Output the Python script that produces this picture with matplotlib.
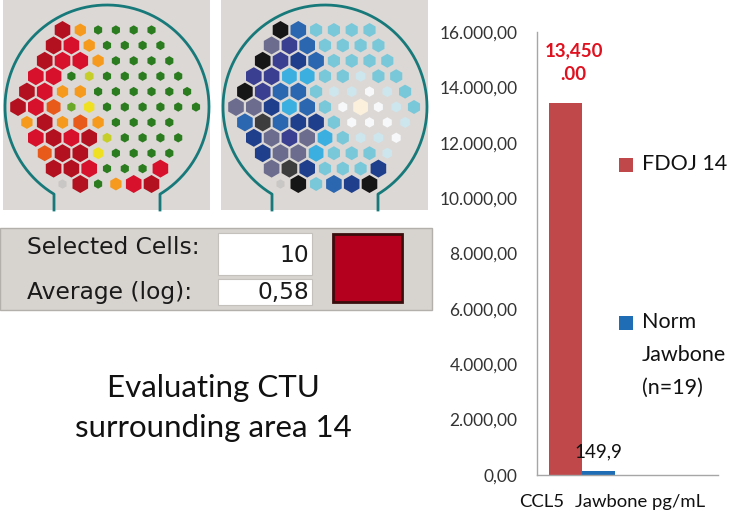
import numpy as np
import matplotlib.pyplot as plt
from matplotlib.patches import Rectangle, RegularPolygon

plt.rcParams['font.family'] = ['Lato', 'DejaVu Sans']

# bar chart data
series = ['FDOJ 14', 'Norm\nJawbone\n(n=19)']
values = [13450.0, 149.9]
value_labels = ['13,450\n.00', '149,9']
bar_colors = ['#c0484a', '#1f6db4']
yticks = [0, 2000, 4000, 6000, 8000, 10000, 12000, 14000, 16000]
category = 'CCL5'
unit_label = 'Jawbone pg/mL'

# selection panel
panel_labels = ['Selected Cells:', 'Average (log):']
panel_values = ['10', '0,58']
selected_color = '#b4001e'

caption = 'Evaluating CTU\nsurrounding area 14'

# hex maps: one code per cell, rows top to bottom
row_start = [5, 4, 3, 2, 1, 0, 1, 2, 3, 4, 5]
map1_rows = [
    'DOGGGG',
    'DROGGGG',
    'DRROGGGG',
    'RRGyGGGGG',
    'DROOGGGGGG',
    'DRogYGGGGGG',
    'ODOoOGGGG',
    'RDRDyGGGG',
    'oDDYGGGG',
    'DDRGGGR',
    'SDGORD',
]
map2_rows = [
    'KBcccc',
    'VPBcccc',
    'KPNBcccc',
    'PPCCccwcc',
    'KPBBcwwWwc',
    'VVNCBcWEWwc',
    'BHBNNcWWWw',
    'NVPVCcwwW',
    'NVVCcccw',
    'VHNcccN',
    'SKcBNK',
]
map1_colors = {'D': '#b3111f', 'R': '#d7112b', 'O': '#f59a1c', 'o': '#e75a19',
               'Y': '#efe021', 'y': '#c6cf2a', 'G': '#2a7c1f', 'g': '#6ba82a',
               'S': '#c9c7c5'}
map1_sizes = {'D': 9, 'R': 9, 'O': 6.5, 'o': 8, 'Y': 6, 'y': 5,
              'G': 4.7, 'g': 4.7, 'S': 4.7}
map2_colors = {'K': '#161616', 'N': '#1f3f8d', 'P': '#3b3f92', 'V': '#6c6c8e',
               'H': '#3d3d3d', 'B': '#2b66b1', 'C': '#3bb0e0', 'c': '#79c8da',
               'w': '#cde6ee', 'W': '#f6f8fa', 'E': '#fbf0dc', 'S': '#c9c7c5'}
map2_sizes = {'K': 9, 'N': 9, 'P': 9, 'V': 9, 'H': 9, 'B': 9, 'C': 8.5,
              'c': 7, 'w': 5.5, 'W': 5.2, 'E': 8.5, 'S': 4.7}

W, H = 733, 515
fig = plt.figure(figsize=(W / 100, H / 100), dpi=100)
ov = fig.add_axes([0, 0, 1, 1], zorder=0)
ov.set_xlim(0, W)
ov.set_ylim(H, 0)
ov.axis('off')


def draw_map(x_off, rows, colors, sizes):
    ov.add_patch(Rectangle((x_off + 3, 0), 207, 210, facecolor='#dcd8d5', edgecolor='none'))
    cx, cy, r, half = x_off + 107, 107, 102, 53
    a = np.arcsin(half / r)
    t = np.linspace(-(np.pi - a), np.pi - a, 400)
    xs = np.concatenate([[cx - half], cx + r * np.sin(t), [cx + half]])
    ys = np.concatenate([[210], cy - r * np.cos(t), [210]])
    ov.plot(xs, ys, color='#17797a', lw=2)
    for i, row in enumerate(rows):
        for j, code in enumerate(row):
            k = row_start[i] + 2 * j
            ov.add_patch(RegularPolygon((x_off + 18 + k * 8.9, 30 + i * 15.4), 6,
                                        radius=sizes[code], orientation=0,
                                        facecolor=colors[code], edgecolor='none'))


draw_map(0, map1_rows, map1_colors, map1_sizes)
draw_map(218, map2_rows, map2_colors, map2_sizes)

# selection panel
ov.add_patch(Rectangle((0, 228), 432, 82, facecolor='#d7d3cf', edgecolor='#b3afab', lw=1))
ov.add_patch(Rectangle((218, 233), 94, 42, facecolor='white', edgecolor='#c4c0bc', lw=0.8))
ov.add_patch(Rectangle((218, 279), 94, 26, facecolor='white', edgecolor='#c4c0bc', lw=0.8))
ov.add_patch(Rectangle((333, 234), 69, 68, facecolor=selected_color, edgecolor='#3a0d0d', lw=2))
for lab, val, y in zip(panel_labels, panel_values, [247, 292]):
    ov.text(27, y, lab, family='DejaVu Sans', fontsize=16.8, va='center', color='#1a1a1a')
    ov.text(309, y + (8 if val == '10' else 0), val, family='DejaVu Sans', fontsize=16.8,
            va='center', ha='right', color='#1a1a1a')

ov.text(213, 408, caption, fontsize=22.5, ha='center', va='center', linespacing=1.55,
        color='#111111')

# bar chart
axb = fig.add_axes([537 / W, 1 - 475 / H, (718 - 537) / W, (475 - 32) / H], zorder=2)
axb.patch.set_alpha(0)
width = 0.4
xpos = [-width / 2, width / 2]
axb.bar(xpos, values, width=width, color=bar_colors)
axb.set_xlim(-0.545, 1.648)
axb.set_ylim(0, 16000)
axb.set_yticks(yticks)
axb.set_yticklabels([f"{v:,.2f}".replace(',', 'X').replace('.', ',').replace('X', '.') for v in yticks])
axb.tick_params(axis='y', length=0, pad=14, labelsize=12.5, labelcolor='#333333')
axb.set_xticks([])
for s in ['top', 'right']:
    axb.spines[s].set_visible(False)
for s in ['left', 'bottom']:
    axb.spines[s].set_color('#a6a6a6')
    axb.spines[s].set_linewidth(1)

axb.annotate(value_labels[0], (xpos[0], values[0]), xytext=(8, 20), textcoords='offset pixels',
             ha='center', va='bottom', fontsize=13.5, fontweight='bold', color='#e0101e',
             linespacing=1.45)
axb.annotate(value_labels[1], (xpos[1], values[1]), xytext=(0, 10), textcoords='offset pixels',
             ha='center', va='bottom', fontsize=13.5, color='#111111')

ov.text(542, 502, category, fontsize=13.3, ha='center', va='center', color='#111111')
ov.text(575, 502, unit_label, fontsize=13.3, ha='left', va='center', color='#111111')

# legend
for lab, col, y in zip(series, bar_colors, [165, 323]):
    ov.add_patch(Rectangle((619, y - 7), 14, 14, facecolor=col, edgecolor='none'))
    ov.text(642, y - 11, lab, fontsize=15.5, ha='left', va='top', linespacing=1.8,
            color='#111111')

fig.savefig('out.png', dpi=100)
